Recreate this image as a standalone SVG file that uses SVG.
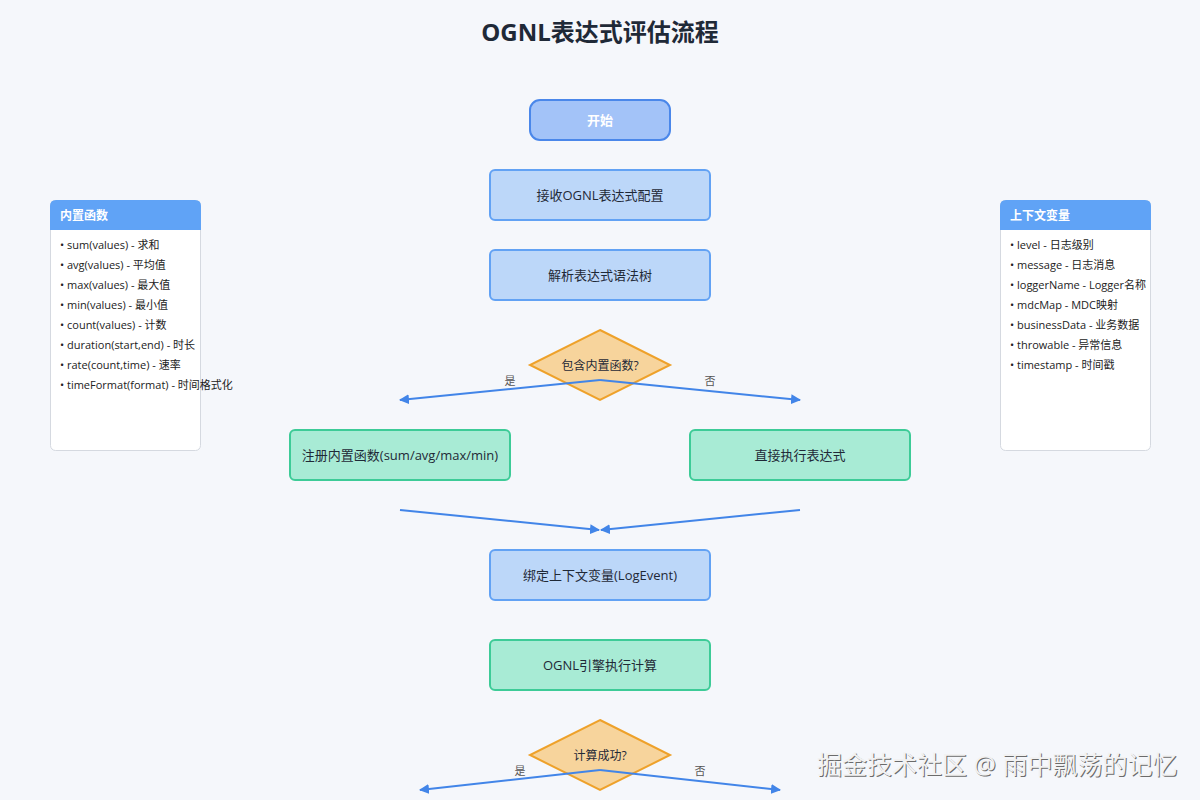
<svg xmlns="http://www.w3.org/2000/svg" width="1200" height="800" viewBox="0 0 1200 800">
<defs>
<style>
text{font-family:"Open Sans","Noto Sans CJK SC","Liberation Sans",sans-serif;}
.title{font-size:24px;font-weight:bold;fill:#1f2937;text-anchor:middle;}
.blue{fill:#bcd7f9;stroke:#62a2f4;stroke-width:2;}
.green{fill:#a8ebd5;stroke:#3dcb97;stroke-width:2;}
.start{fill:#a3c3f8;stroke:#4a87ea;stroke-width:2;}
.dia{fill:#f7d49c;stroke:#eea12a;stroke-width:2;}
.lbl{font-size:13px;fill:#1f2937;text-anchor:middle;}
.slbl{font-size:13px;font-weight:bold;fill:#ffffff;text-anchor:middle;}
.dlbl{font-size:12px;fill:#1f2937;text-anchor:middle;}
.edge{fill:none;stroke:#4285e8;stroke-width:2;}
.elbl{font-size:11px;fill:#555;text-anchor:middle;}
.panel{fill:#ffffff;stroke:#d5d9e0;stroke-width:1;}
.phead{fill:#60a3f6;}
.ptitle{font-size:12px;font-weight:bold;fill:#ffffff;}
.item{font-size:11px;fill:#222;}
.wm{font-size:25px;fill:#f2f2f2;}
.wms{font-size:25px;fill:#6b6b6b;}
</style>
<marker id="arr" viewBox="0 0 10 10" refX="9" refY="5" markerWidth="5" markerHeight="5" orient="auto">
<path d="M0,0 L10,5 L0,10 z" fill="#4285e8"/>
</marker>
</defs>
<rect width="1200" height="800" fill="#f5f7fb"/>
<text class="title" x="600" y="41">OGNL表达式评估流程</text>

<g id="start">
<rect class="start" x="530" y="100" width="140" height="40" rx="10"/>
<text class="slbl" x="600" y="125">开始</text>
</g>
<g id="receive">
<rect class="blue" x="490" y="170" width="220" height="50" rx="5"/>
<text class="lbl" x="600" y="200">接收OGNL表达式配置</text>
</g>
<g id="parse">
<rect class="blue" x="490" y="250" width="220" height="50" rx="5"/>
<text class="lbl" x="600" y="280">解析表达式语法树</text>
</g>
<g id="dec1">
<polygon class="dia" points="600,330 670,365 600,400 530,365"/>
<text class="dlbl" x="600" y="370">包含内置函数?</text>
</g>
<g id="register">
<rect class="green" x="290" y="430" width="220" height="50" rx="5"/>
<text class="lbl" x="400" y="460">注册内置函数(sum/avg/max/min)</text>
</g>
<g id="direct">
<rect class="green" x="690" y="430" width="220" height="50" rx="5"/>
<text class="lbl" x="800" y="460">直接执行表达式</text>
</g>
<g id="bind">
<rect class="blue" x="490" y="550" width="220" height="50" rx="5"/>
<text class="lbl" x="600" y="580">绑定上下文变量(LogEvent)</text>
</g>
<g id="engine">
<rect class="green" x="490" y="640" width="220" height="50" rx="5"/>
<text class="lbl" x="600" y="670">OGNL引擎执行计算</text>
</g>
<g id="dec2">
<polygon class="dia" points="600,720 670,755 600,790 530,755"/>
<text class="dlbl" x="600" y="760">计算成功?</text>
</g>

<g id="connectors">
<path class="edge" d="M600,380 L400,400" marker-end="url(#arr)"/>
<path class="edge" d="M600,380 L800,400" marker-end="url(#arr)"/>
<text class="elbl" x="510" y="385">是</text>
<text class="elbl" x="710" y="385">否</text>
<path class="edge" d="M400,510 L599,530" marker-end="url(#arr)"/>
<path class="edge" d="M800,510 L601,530" marker-end="url(#arr)"/>
<path class="edge" d="M600,770 L420,790" marker-end="url(#arr)"/>
<path class="edge" d="M600,770 L780,790" marker-end="url(#arr)"/>
<text class="elbl" x="520" y="775">是</text>
<text class="elbl" x="700" y="775">否</text>
</g>

<g id="builtin-panel">
<rect class="panel" x="50.5" y="200.5" width="150" height="250" rx="5"/>
<path class="phead" d="M50,230 L50,206 Q50,200 56,200 L195,200 Q201,200 201,206 L201,230 Z"/>
<text class="ptitle" x="60" y="220">内置函数</text>
<text class="item" x="60" y="249">• sum(values) - 求和</text>
<text class="item" x="60" y="269">• avg(values) - 平均值</text>
<text class="item" x="60" y="289">• max(values) - 最大值</text>
<text class="item" x="60" y="309">• min(values) - 最小值</text>
<text class="item" x="60" y="329">• count(values) - 计数</text>
<text class="item" x="60" y="349">• duration(start,end) - 时长</text>
<text class="item" x="60" y="369">• rate(count,time) - 速率</text>
<text class="item" x="60" y="389">• timeFormat(format) - 时间格式化</text>
</g>

<g id="context-panel">
<rect class="panel" x="1000.5" y="200.5" width="150" height="250" rx="5"/>
<path class="phead" d="M1000,230 L1000,206 Q1000,200 1006,200 L1145,200 Q1151,200 1151,206 L1151,230 Z"/>
<text class="ptitle" x="1010" y="220">上下文变量</text>
<text class="item" x="1010" y="249">• level - 日志级别</text>
<text class="item" x="1010" y="269">• message - 日志消息</text>
<text class="item" x="1010" y="289">• loggerName - Logger名称</text>
<text class="item" x="1010" y="309">• mdcMap - MDC映射</text>
<text class="item" x="1010" y="329">• businessData - 业务数据</text>
<text class="item" x="1010" y="349">• throwable - 异常信息</text>
<text class="item" x="1010" y="369">• timestamp - 时间戳</text>
</g>

<g id="watermark">
<text class="wms" x="818" y="775">掘金技术社区 @ 雨中飘荡的记忆</text>
<text class="wm" x="817" y="774">掘金技术社区 @ 雨中飘荡的记忆</text>
</g>
</svg>
